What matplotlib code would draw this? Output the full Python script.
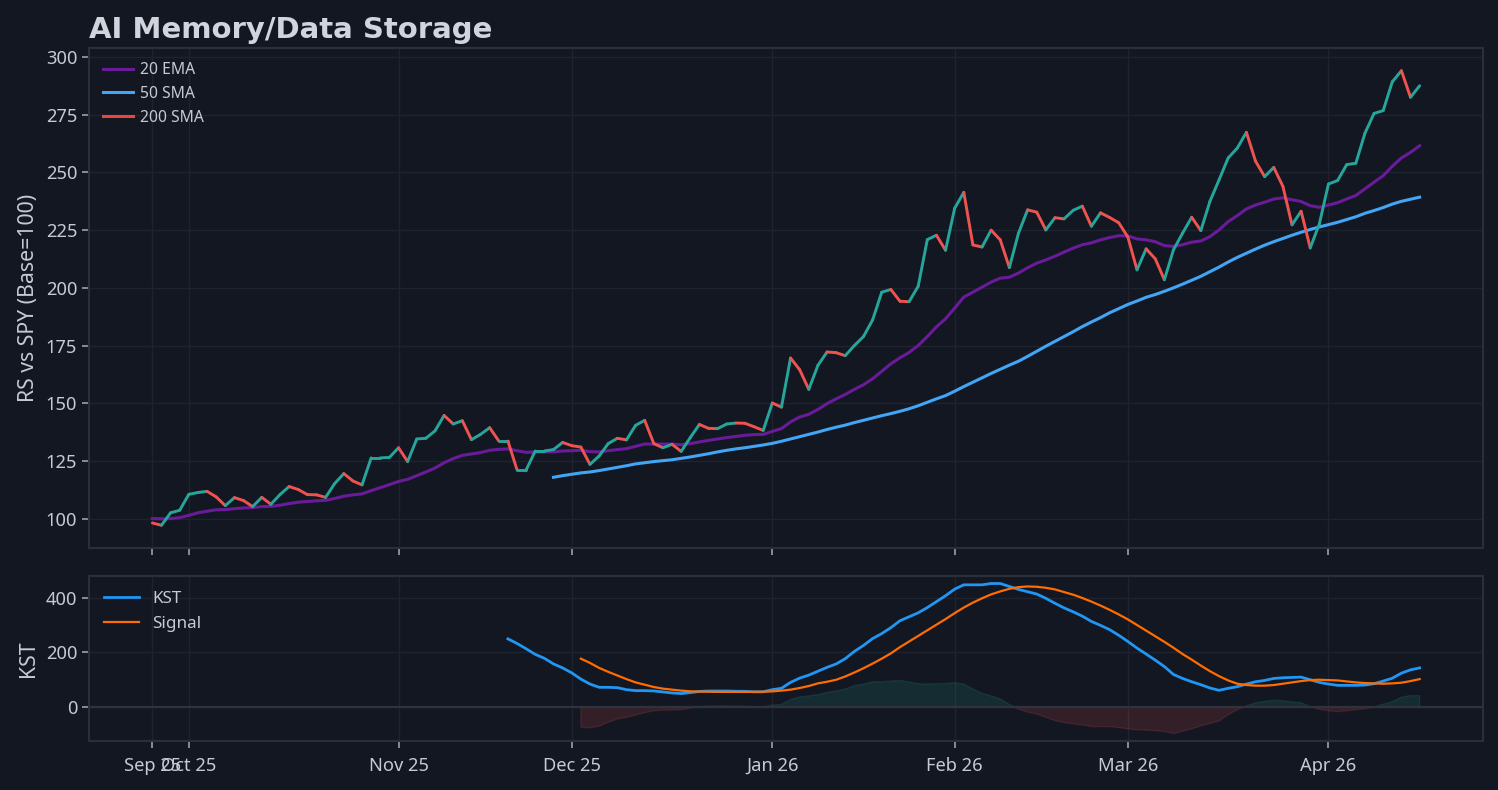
import numpy as np
import matplotlib
matplotlib.use("Agg")
import matplotlib.pyplot as plt
from matplotlib.collections import LineCollection

# ---------------- data ----------------
rs = [98.1, 97.1, 102.5, 103.6, 110.5, 111.3, 111.8, 109.4, 105.6, 109.1,
      107.8, 105.2, 109.2, 106.2, 110.4, 113.9, 112.6, 110.4, 110.3, 109.2,
      115.2, 119.5, 116.3, 114.6, 126.3, 126.3, 126.5, 130.7, 124.7, 134.5,
      134.8, 138.0, 144.7, 141.0, 142.4, 134.2, 136.5, 139.4, 133.6, 133.6,
      121.1, 121.1, 129.3, 129.3, 129.9, 133.0, 131.6, 131.0, 123.5, 127.1,
      132.5, 134.8, 134.1, 140.4, 142.6, 132.5, 130.7, 132.2, 129.1, 135.1,
      140.8, 139.1, 139.0, 141.0, 141.4, 141.3, 139.8, 138.2, 150.1, 148.3,
      169.6, 164.5, 156.0, 166.4, 172.2, 171.9, 170.6, 175.0, 178.9, 186.1,
      198.1, 199.3, 194.2, 194.0, 200.7, 220.9, 222.8, 216.3, 234.5, 241.4,
      218.6, 217.7, 225.0, 220.8, 208.8, 223.7, 233.8, 232.8, 225.1, 230.4,
      229.9, 233.6, 235.4, 226.7, 232.5, 230.5, 228.2, 222.0, 207.8, 216.9,
      212.6, 203.5, 216.5, 223.7, 230.6, 224.8, 237.5, 246.8, 256.3, 260.6,
      267.4, 254.9, 248.2, 252.2, 244.0, 227.3, 233.2, 217.3, 227.7, 245.0,
      246.5, 253.4, 254.0, 267.0, 275.6, 276.8, 289.3, 294.1, 282.6, 287.6]

ema20 = [100.0, 99.9, 100.0, 100.4, 101.4, 102.5, 103.2, 103.8, 103.9, 104.3,
         104.6, 104.8, 105.2, 105.3, 105.8, 106.5, 107.1, 107.4, 107.7, 107.9,
         108.7, 109.7, 110.3, 110.7, 112.1, 113.4, 114.7, 116.1, 117.0, 118.6,
         120.2, 121.9, 124.2, 126.0, 127.4, 128.0, 128.6, 129.6, 130.0, 130.2,
         129.4, 128.7, 128.9, 128.9, 128.9, 129.3, 129.4, 129.6, 129.0, 128.9,
         129.4, 129.9, 130.3, 131.3, 132.3, 132.3, 132.3, 132.3, 132.0, 132.5,
         133.2, 133.9, 134.5, 135.1, 135.6, 136.1, 136.4, 136.5, 137.8, 139.0,
         141.9, 144.0, 145.2, 147.3, 149.8, 151.9, 153.8, 156.0, 158.0, 160.6,
         163.8, 167.1, 169.7, 172.0, 175.0, 178.9, 183.1, 186.6, 191.2, 196.0,
         198.1, 200.3, 202.5, 204.2, 204.6, 206.4, 208.7, 210.7, 212.1, 213.7,
         215.5, 217.2, 218.7, 219.5, 220.8, 221.8, 222.6, 222.5, 221.2, 220.8,
         220.0, 218.3, 218.0, 218.7, 219.8, 220.3, 222.2, 225.1, 228.7, 231.3,
         234.2, 235.9, 237.1, 238.5, 239.0, 238.2, 237.4, 235.6, 234.9, 235.9,
         236.9, 238.5, 240.0, 242.9, 245.8, 248.6, 252.7, 256.3, 258.7, 261.6]

sma50_start = 44
sma50 = [117.9, 118.6, 119.2, 119.8, 120.2, 120.8, 121.5, 122.2, 122.9, 123.7,
         124.2, 124.7, 125.1, 125.5, 126.1, 126.7, 127.4, 128.1, 128.9, 129.6,
         130.2, 130.7, 131.3, 131.9, 132.6, 133.5, 134.5, 135.5, 136.5, 137.5,
         138.6, 139.6, 140.5, 141.6, 142.6, 143.6, 144.6, 145.5, 146.5, 147.6,
         148.9, 150.4, 151.9, 153.3, 155.2, 157.2, 159.1, 161.0, 162.9, 164.7,
         166.5, 168.2, 170.3, 172.5, 174.7, 176.8, 178.9, 181.0, 183.2, 185.2,
         187.1, 189.2, 191.0, 192.8, 194.3, 195.9, 197.1, 198.5, 200.0, 201.6,
         203.3, 205.0, 207.0, 209.0, 211.2, 213.2, 215.0, 216.8, 218.5, 220.0,
         221.4, 222.8, 224.1, 225.3, 226.4, 227.4, 228.4, 229.6, 230.8, 232.3,
         233.5, 234.8, 236.3, 237.5, 238.4, 239.3]

kst_start = 39
kst = [249.8, 232.7, 213.3, 192.7, 178.2, 157.5, 142.9, 124.7, 101.8, 83.6,
       71.6, 71.6, 70.3, 63.0, 59.4, 59.4, 58.2, 54.5, 50.9, 48.5,
       52.1, 56.5, 58.0, 58.0, 58.0, 57.0, 57.0, 55.0, 55.0, 63.0,
       67.9, 89.7, 105.5, 116.4, 130.9, 145.0, 157.5, 176.9, 203.6, 225.5,
       250.9, 269.1, 290.9, 316.4, 330.9, 345.5, 364.8, 386.6, 408.4, 432.7,
       448.4, 448.4, 448.4, 453.3, 453.3, 442.4, 431.5, 423.0, 414.5, 398.8,
       380.6, 363.6, 349.1, 333.3, 313.8, 299.3, 283.6, 262.9, 240.0, 215.8,
       193.9, 171.5, 147.9, 118.8, 104.2, 92.1, 81.2, 69.1, 60.6, 67.9,
       73.9, 83.6, 92.1, 96.9, 104.2, 106.7, 107.9, 109.1, 99.4, 89.7,
       83.6, 78.8, 78.8, 78.8, 80.0, 84.8, 94.5, 105.0, 123.6, 135.8,
       143.0]

signal_start = 47
signal = [176.9, 161.2, 143.0, 128.5, 115.2, 101.8, 89.7, 81.2, 72.7, 66.7,
          63.0, 59.4, 57.0, 55.8, 55.2, 54.8, 54.6, 54.5, 54.5, 55.0,
          55.5, 56.5, 59.4, 63.0, 69.1, 76.4, 86.1, 92.0, 99.4, 111.5,
          126.0, 141.8, 158.8, 176.9, 196.3, 219.3, 240.0, 260.7, 281.2, 301.8,
          322.5, 344.3, 364.8, 382.9, 398.8, 413.3, 424.2, 433.8, 440.0, 442.4,
          441.2, 437.5, 431.5, 421.8, 412.1, 400.0, 386.6, 372.1, 356.4, 339.4,
          321.2, 300.6, 280.0, 259.4, 238.8, 217.0, 193.9, 173.3, 151.5, 130.9,
          112.7, 96.9, 84.8, 80.0, 77.6, 77.6, 80.0, 84.8, 89.7, 94.5,
          98.2, 99.4, 98.2, 96.9, 93.3, 89.7, 87.3, 86.1, 84.8, 86.1,
          88.5, 94.5, 101.8]

tick_pos = [0, 4, 27, 46, 68, 88, 107, 129]
tick_labels = ["Sep 25", "Oct 25", "Nov 25", "Dec 25", "Jan 26", "Feb 26", "Mar 26", "Apr 26"]

# ---------------- styling ----------------
BG = "#131722"
GRID = "#1f2330"
SPINE = "#2b2f3a"
TXT = "#c7cad2"
TICK = "#9ea1aa"
UP = "#26a69a"
DOWN = "#ef5350"
EMA_C = "#6a1b9a"
SMA50_C = "#42a5f5"
SMA200_C = "#e8453c"
KST_C = "#2196f3"
SIG_C = "#ff6d00"

plt.rcParams["font.family"] = ["Noto Sans", "DejaVu Sans"]

n = len(rs)
x = np.arange(n)


def pad(start, vals):
    return np.concatenate([np.full(start, np.nan), np.asarray(vals, float)])


rs_a = np.asarray(rs, float)
ema_a = np.asarray(ema20, float)
sma_a = pad(sma50_start, sma50)
kst_a = pad(kst_start, kst)
sig_a = pad(signal_start, signal)

fig = plt.figure(figsize=(14.98, 7.9), dpi=100, facecolor=BG)
ax1 = fig.add_axes([0.05941, 0.30633, 0.93058, 0.63291])
ax2 = fig.add_axes([0.05941, 0.06203, 0.93058, 0.20886], sharex=ax1)

for ax in (ax1, ax2):
    ax.set_facecolor(BG)
    ax.grid(True, color=GRID, linewidth=1.0)
    ax.set_axisbelow(True)
    for s in ax.spines.values():
        s.set_color(SPINE)
        s.set_linewidth(1.5)
    ax.tick_params(colors=TICK, labelcolor=TXT, labelsize=13.2, length=5, width=1.2)
ax2.tick_params(axis="x", pad=6.5)

# --- top panel: RS line coloured by direction ---
pts = np.column_stack([x, rs_a])
segs = np.stack([pts[:-1], pts[1:]], axis=1)
cols = [UP if rs_a[i + 1] >= rs_a[i] else DOWN for i in range(n - 1)]
lc = LineCollection(segs, colors=cols, linewidths=2.1, capstyle="round", zorder=3)
ax1.add_collection(lc, autolim=True)
ax1.autoscale_view()

ax1.plot(x, ema_a, color=EMA_C, lw=2.2, label="20 EMA", zorder=2)
ax1.plot(x, sma_a, color=SMA50_C, lw=2.2, label="50 SMA", zorder=2)
ax1.plot([], [], color=SMA200_C, lw=2.2, label="200 SMA")

ax1.set_ylabel("RS vs SPY (Base=100)", color=TXT, fontsize=15.3, labelpad=5)
ax1.set_yticks([100, 125, 150, 175, 200, 225, 250, 275, 300])
ax1.legend(loc="upper left", frameon=False, fontsize=11.3, labelcolor=TXT,
           handlelength=1.9, handletextpad=0.45)

ax1.set_title("AI Memory/Data Storage", loc="left", fontfamily="DejaVu Sans",
              fontweight="bold", fontsize=21, color="#d1d4dc", pad=7)

# --- bottom panel: KST ---
diff = kst_a - sig_a
ax2.fill_between(x, 0, diff, where=diff >= 0, interpolate=True, color=UP, alpha=0.15, lw=1)
ax2.fill_between(x, 0, diff, where=diff < 0, interpolate=True, color=DOWN, alpha=0.15, lw=1)
ax2.plot(x, kst_a, color=KST_C, lw=2.0, label="KST", zorder=3)
ax2.plot(x, sig_a, color=SIG_C, lw=1.6, label="Signal", zorder=3)
ax2.axhline(0, color="#2f333e", lw=1.6, zorder=1)
ax2.set_yticks([0, 200, 400])
ax2.set_ylabel("KST", color=TXT, fontsize=15.3, labelpad=5)
ax2.legend(loc="upper left", frameon=False, fontsize=12.3, labelcolor=TXT)

ax2.set_xticks(tick_pos)
ax2.set_xticklabels(tick_labels)
ax1.tick_params(labelbottom=False)

fig.savefig("out.png", dpi=100, facecolor=BG)
